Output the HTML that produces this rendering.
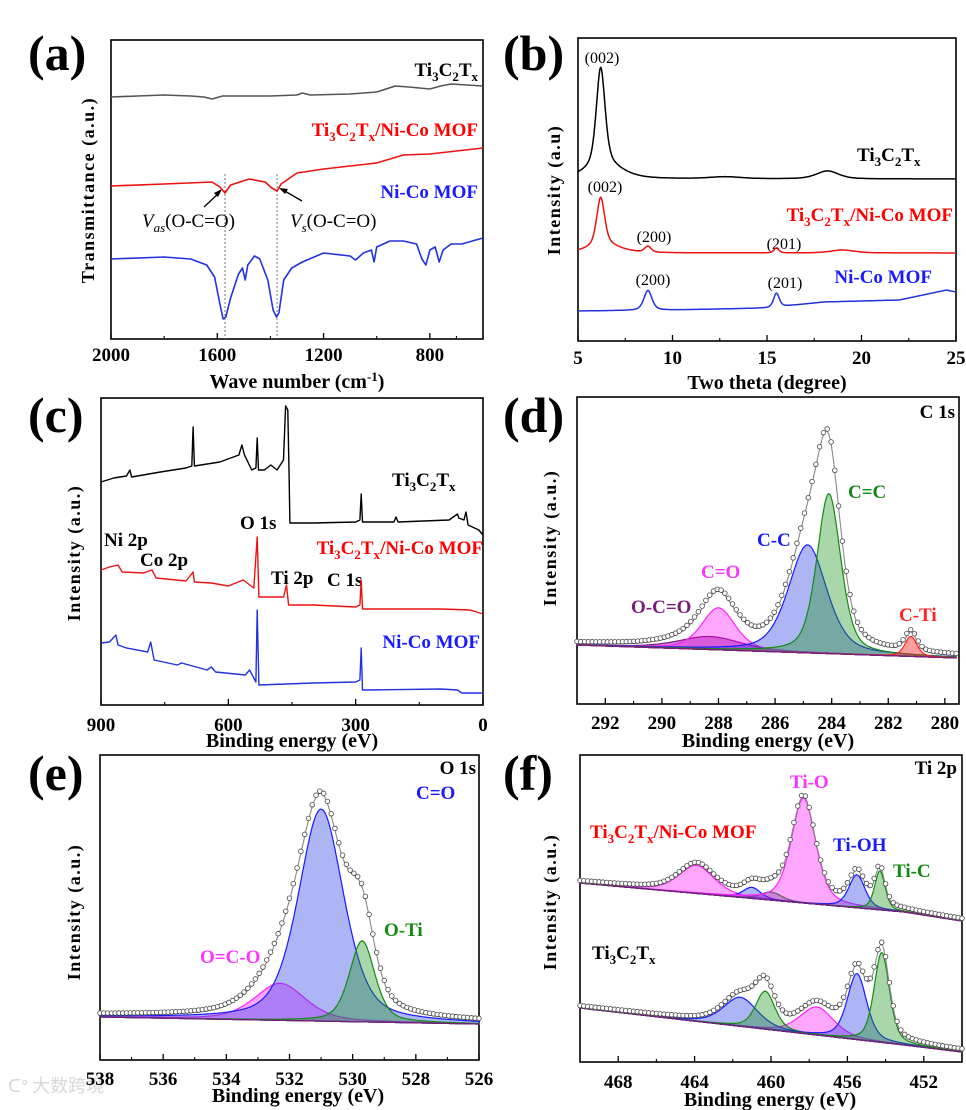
<!DOCTYPE html>
<html><head><meta charset="utf-8"><style>
html,body{margin:0;padding:0;background:#fff;}
svg{display:block;font-family:"Liberation Serif","Noto Serif CJK SC",serif;}
.tk{font-size:19px;font-weight:bold;text-anchor:middle;}
.ttl{font-size:20px;font-weight:bold;text-anchor:middle;}
.yt{font-size:18px;font-weight:bold;text-anchor:middle;letter-spacing:1.5px;}
.pl{font-size:50px;font-weight:bold;}
.lb{font-size:19px;font-weight:bold;}
.hk{font-size:16px;}
</style></head><body>
<svg id="chart" width="966" height="1110" viewBox="0 0 966 1110">
<rect width="966" height="1110" fill="#fff"/>
<text class="pl" x="28" y="70">(a)</text>
<text class="pl" x="503" y="70">(b)</text>
<text class="pl" x="28" y="432">(c)</text>
<text class="pl" x="503" y="432">(d)</text>
<text class="pl" x="28" y="790">(e)</text>
<text class="pl" x="503" y="790">(f)</text>

<text class="ttl" x="297" y="388">Wave number (cm<tspan dy="-7" font-size="13">-1</tspan><tspan dy="7">)</tspan></text>
<text class="ttl" x="767" y="389">Two theta (degree)</text>
<text class="ttl" x="292" y="747">Binding energy (eV)</text>
<text class="ttl" x="768" y="747">Binding energy (eV)</text>
<text class="ttl" x="298" y="1102">Binding energy (eV)</text>
<text class="ttl" x="770" y="1106">Binding energy (eV)</text>

<text class="yt" transform="translate(94,190) rotate(-90)">Transmittance (a.u.)</text>
<text class="yt" transform="translate(560,190) rotate(-90)">Intensity (a.u)</text>
<text class="yt" transform="translate(80,553) rotate(-90)">Intensity (a.u.)</text>
<text class="yt" transform="translate(556,538) rotate(-90)">Intensity (a.u.)</text>
<text class="yt" transform="translate(80,912) rotate(-90)">Intensity (a.u.)</text>
<text class="yt" transform="translate(556,902) rotate(-90)">Intensity (a.u.)</text>

<text class="lb" x="478" y="76" text-anchor="end" fill="#000">Ti<tspan dy="5" font-size="13">3</tspan><tspan dy="-5">C</tspan><tspan dy="5" font-size="13">2</tspan><tspan dy="-5">T</tspan><tspan dy="5" font-size="13">x</tspan></text>
<text class="lb" x="478" y="136" text-anchor="end" fill="#ff0000">Ti<tspan dy="5" font-size="13">3</tspan><tspan dy="-5">C</tspan><tspan dy="5" font-size="13">2</tspan><tspan dy="-5">T</tspan><tspan dy="5" font-size="13">x</tspan><tspan dy="-5">/Ni-Co MOF</tspan></text>
<text class="lb" x="478" y="198" text-anchor="end" fill="#1a1aff">Ni-Co MOF</text>
<text x="142" y="227" font-size="19"><tspan font-style="italic">V</tspan><tspan font-style="italic" font-size="13" dy="5">as</tspan><tspan dy="-5">(O-C=O)</tspan></text>
<text x="290" y="227" font-size="19"><tspan font-style="italic">V</tspan><tspan font-style="italic" font-size="13" dy="5">s</tspan><tspan dy="-5">(O-C=O)</tspan></text>
<line x1="204" y1="207" x2="220" y2="192" stroke="#000" stroke-width="1.3"/>
<polygon points="222,189 214,193 218,197" fill="#000"/>
<line x1="302" y1="201" x2="283" y2="190" stroke="#000" stroke-width="1.3"/>
<polygon points="279,188 288,189 285,194" fill="#000"/>

<g class="hk" text-anchor="middle">
<text x="602" y="63">(002)</text>
<text x="605" y="192">(002)</text>
<text x="654" y="242">(200)</text>
<text x="784" y="249">(201)</text>
<text x="653" y="285">(200)</text>
<text x="785" y="288">(201)</text>
</g>
<text class="lb" x="857" y="161">Ti<tspan dy="5" font-size="13">3</tspan><tspan dy="-5">C</tspan><tspan dy="5" font-size="13">2</tspan><tspan dy="-5">T</tspan><tspan dy="5" font-size="13">x</tspan></text>
<text class="lb" x="953" y="221" text-anchor="end" fill="#ff0000">Ti<tspan dy="5" font-size="13">3</tspan><tspan dy="-5">C</tspan><tspan dy="5" font-size="13">2</tspan><tspan dy="-5">T</tspan><tspan dy="5" font-size="13">x</tspan><tspan dy="-5">/Ni-Co MOF</tspan></text>
<text class="lb" x="932" y="283" text-anchor="end" fill="#1a1aff">Ni-Co MOF</text>

<text class="lb" x="392" y="486">Ti<tspan dy="5" font-size="13">3</tspan><tspan dy="-5">C</tspan><tspan dy="5" font-size="13">2</tspan><tspan dy="-5">T</tspan><tspan dy="5" font-size="13">x</tspan></text>
<text class="lb" x="240" y="529">O 1s</text>
<text class="lb" x="104" y="546">Ni 2p</text>
<text class="lb" x="140" y="566">Co 2p</text>
<text class="lb" x="483" y="554" text-anchor="end" fill="#ff0000">Ti<tspan dy="5" font-size="13">3</tspan><tspan dy="-5">C</tspan><tspan dy="5" font-size="13">2</tspan><tspan dy="-5">T</tspan><tspan dy="5" font-size="13">x</tspan><tspan dy="-5">/Ni-Co MOF</tspan></text>
<text class="lb" x="271" y="584">Ti 2p</text>
<text class="lb" x="327" y="586">C 1s</text>
<text class="lb" x="480" y="648" text-anchor="end" fill="#1a1aff">Ni-Co MOF</text>

<text class="lb" x="955" y="418" text-anchor="end">C 1s</text>
<text class="lb" x="848" y="498" fill="#138a13">C=C</text>
<text class="lb" x="757" y="546" fill="#1a1aff">C-C</text>
<text class="lb" x="701" y="578" fill="#ff33ff">C=O</text>
<text class="lb" x="631" y="613" fill="#7a1a7a">O-C=O</text>
<text class="lb" x="899" y="621" fill="#ff2222">C-Ti</text>

<text class="lb" x="476" y="774" text-anchor="end">O 1s</text>
<text class="lb" x="416" y="799" fill="#1a1aff">C=O</text>
<text class="lb" x="384" y="936" fill="#138a13">O-Ti</text>
<text class="lb" x="200" y="963" fill="#ff33ff">O=C-O</text>

<text class="lb" x="957" y="774" text-anchor="end">Ti 2p</text>
<text class="lb" x="790" y="788" fill="#ff33ff">Ti-O</text>
<text class="lb" x="590" y="838" fill="#ff0000">Ti<tspan dy="5" font-size="13">3</tspan><tspan dy="-5">C</tspan><tspan dy="5" font-size="13">2</tspan><tspan dy="-5">T</tspan><tspan dy="5" font-size="13">x</tspan><tspan dy="-5">/Ni-Co MOF</tspan></text>
<text class="lb" x="833" y="851" fill="#1a1aff">Ti-OH</text>
<text class="lb" x="893" y="877" fill="#138a13">Ti-C</text>
<text class="lb" x="592" y="959">Ti<tspan dy="5" font-size="13">3</tspan><tspan dy="-5">C</tspan><tspan dy="5" font-size="13">2</tspan><tspan dy="-5">T</tspan><tspan dy="5" font-size="13">x</tspan></text>

<text x="8" y="1092" font-size="18" fill="#d8d8d8" font-family="'Noto Sans CJK SC',sans-serif">ᑕᐤ 大数跨境</text>
<g id="marks"></g>
</svg>
<script>
// ---------- data (panel a: FTIR) ----------
const aWave = [2000,1900,1800,1700,1650,1620,1580,1500,1400,1300,1280,1250,1100,1000,930,880,800,760,720,600];
const aGray = [242,243,244,243,242,240,243,243,243,244,246,244,245,247,253,252,250,253,255,253];
const aRedX = [2000,1800,1620,1590,1571,1550,1480,1420,1395,1375,1360,1300,1200,1000,900,800,700,600];
const aRed = [153,155,157,152,146,154,160,157,151,148,155,166,170,176,184,185,188,191];
const aBlueX = [2000,1800,1700,1640,1610,1590,1578,1568,1550,1520,1505,1495,1485,1460,1440,1410,1390,1377,1368,1350,1320,1280,1200,1100,1080,1050,1020,1010,1000,950,900,850,830,815,800,780,765,750,720,680,600];
const aBlue = [80,82,80,74,62,35,20,22,41,65,71,59,74,83,80,59,29,22,26,59,71,77,86,83,79,86,89,77,92,98,98,95,80,74,89,92,77,89,95,95,101];
const aDashes = [1571,1375];

// ---------- panel b: XRD ----------
const bBlackBase = [162,162];
const bBlackPk = [[6.2,98,0.55],[6.4,14,2.2],[12.8,2,2],[18.2,8,1.4]];
const bRedBase = [88,88];
const bRedPk = [[6.2,48,0.5],[6.4,8,2],[8.7,6,0.4],[15.5,5,0.3],[19,3,1.5]];
const bBlueBaseX = [5,10,15,18,22,24.5,25];
const bBlueBase = [30,31,33,39,41,51,49];
const bBluePk = [[8.7,20,0.5],[15.5,14,0.35]];

// ---------- panel c: survey ----------
const cBlackX = [900,870,840,832,828,760,700,686,683,680,620,575,568,562,545,535,532,529,515,500,485,470,465,460,457,455,400,300,290,287,284,210,205,200,80,60,57,45,40,35,10,0];
const cBlack = [223,227,229,235,228,233,237,239,278,239,243,250,260,250,235,237,267,235,235,240,235,245,299,295,235,182,182,183,185,211,183,183,188,183,185,191,187,185,193,180,175,170];
const cRedX = [900,880,860,850,800,780,770,700,683,680,640,600,565,540,532,528,470,463,458,400,300,290,287,284,100,30,0];
const cRed = [135,138,140,133,132,135,127,124,133,123,122,119,125,117,168,108,108,120,100,100,98,100,125,96,96,95,91];
const cBlueX = [900,880,865,860,840,790,783,775,720,710,650,640,630,560,550,535,532,528,400,300,290,287,284,100,60,50,0];
const cBlue = [62,63,70,60,57,53,63,45,40,42,35,38,33,30,35,23,95,20,22,23,25,57,15,16,15,12,12];

// ---------- panel d: C 1s ----------
const dBgX = [293,279.5];
const dBg = [59,46];
const dNames = ['O-C=O','C=O','C-C','C=C','C-Ti'];
const dCenters = [288.3,288.0,284.85,284.1,281.2];
const dHeights = [13,42,108,160,20];
const dWidths = [2.6,1.4,1.6,1.0,0.5];

// ---------- panel e: O 1s ----------
const eBgX = [538,526];
const eBg = [43,36];
const eNames = ['O=C-O','C=O','O-Ti'];
const eCenters = [532.3,531.0,529.7];
const eHeights = [37,212,81];
const eWidths = [1.9,1.7,0.95];

// ---------- panel f: Ti 2p ----------
const fTopBgX = [470,453,450];
const fTopBg = [179,150,141];
const fTopNames = ['Ti2p1/2-O','Ti-C-2','Ti-OH-2','Ti-O','Ti-OH','Ti-C'];
const fTopCenters = [463.9,460.0,461.0,458.3,455.5,454.3];
const fTopHeights = [28,8,11,105,33,39];
const fTopWidths = [2.2,1.3,1.1,1.5,1.0,0.65];
const fBotBgX = [470,453,450];
const fBotBg = [54,17,10];
const fBotNames = ['Ti-O','Ti-OH-2','Ti-C-2','Ti-OH','Ti-C'];
const fBotCenters = [457.6,461.6,460.3,455.5,454.2];
const fBotHeights = [28,29,38,66,90];
const fBotWidths = [2.1,2.1,1.2,1.2,0.95];

// ---------- rendering ----------
const NS = 'http://www.w3.org/2000/svg';
const root = document.getElementById('marks');
function mk(tag, attrs){ const e=document.createElementNS(NS,tag); for(const k in attrs) e.setAttribute(k,attrs[k]); root.appendChild(e); return e; }
function lin(d0,d1,r0,r1){ return v => r0+(v-d0)/(d1-d0)*(r1-r0); }
function interp(xs,ys,x){
  for(let i=0;i<xs.length-1;i++){
    const a=xs[i], b=xs[i+1];
    if((x-a)*(x-b)<=0){ return ys[i]+(x-a)/(b-a)*(ys[i+1]-ys[i]); }
  }
  return Math.abs(x-xs[0])<Math.abs(x-xs[xs.length-1]) ? ys[0] : ys[ys.length-1];
}
function pv(x,c,h,w,eta){ const t=(x-c)/w; return h*(eta/(1+4*t*t)+(1-eta)*Math.exp(-4*Math.LN2*t*t)); }

const panels = {
  a:{x0:111,x1:483,y0:40,y1:339,d0:2000,d1:600,maj:[2000,1600,1200,800],min:[1800,1400,1000,700,600],lab:['2000','1600','1200','800'],ly:361},
  b:{x0:578,x1:956,y0:38,y1:341,d0:5,d1:25,maj:[5,10,15,20,25],min:[7.5,12.5,17.5,22.5],lab:['5','10','15','20','25'],ly:364},
  c:{x0:101,x1:483,y0:398,y1:705,d0:900,d1:0,maj:[900,600,300,0],min:[750,450,150],lab:['900','600','300','0'],ly:731},
  d:{x0:577,x1:959,y0:397,y1:704,d0:293,d1:279.5,maj:[292,290,288,286,284,282,280],min:[291,289,287,285,283,281],lab:['292','290','288','286','284','282','280'],ly:729},
  e:{x0:100,x1:479,y0:755,y1:1060,d0:538,d1:526,maj:[538,536,534,532,530,528,526],min:[537,535,533,531,529,527],lab:['538','536','534','532','530','528','526'],ly:1085},
  f:{x0:580,x1:962,y0:755,y1:1062,d0:470,d1:450,maj:[468,464,460,456,452],min:[466,462,458,454],lab:['468','464','460','456','452'],ly:1088}
};
for(const k in panels){
  const p=panels[k];
  p.sx = lin(p.d0,p.d1,p.x0,p.x1);
  p.sy = v => p.y1 - v;
  const fr = mk('rect',{x:p.x0,y:p.y0,width:p.x1-p.x0,height:p.y1-p.y0,fill:'none',stroke:'#000','stroke-width':1.6});
  
  
  p.maj.forEach((v,i)=>{
    const X=p.sx(v);
    const t=mk('line',{x1:X,x2:X,y1:p.y1,y2:p.y1-6,stroke:'#000','stroke-width':1.3});
    
    
    const tl=mk('text',{x:X,y:p.ly,class:'tk'});
    tl.textContent=p.lab[i];
    
    
  });
  p.min.forEach(v=>{
    const X=p.sx(v);
    const t=mk('line',{x1:X,x2:X,y1:p.y1,y2:p.y1-3,stroke:'#000','stroke-width':1.1});
    
    
  });
}
function pathFrom(p,xs,ys){ return xs.map((x,i)=>(i?'L':'M')+p.sx(x).toFixed(1)+','+p.sy(ys[i]).toFixed(1)).join(''); }
function drawLine(p,xs,ys,color,name,w){
  const e=mk('path',{d:pathFrom(p,xs,ys),fill:'none',stroke:color,'stroke-width':w||1.6,'stroke-linejoin':'round'});
  
  
}
const A=panels.a;
aDashes.forEach(w=>{
  const e=mk('line',{x1:A.sx(w),x2:A.sx(w),y1:174,y2:A.y1,stroke:'#666','stroke-width':0.9,'stroke-dasharray':'2,2'});
  
  
});
drawLine(A,aWave,aGray,'#555','ftir-ti3c2tx-line');
drawLine(A,aRedX,aRed,'#ee1111','ftir-composite-line');
drawLine(A,aBlueX,aBlue,'#2233dd','ftir-mof-line');
const B=panels.b;
function xrd(baseX,base,pk){ const xs=[],ys=[]; for(let i=0;i<=500;i++){ const x=5+20*i/500; xs.push(x); let v=interp(baseX,base,x); pk.forEach(q=>v+=pv(x,q[0],q[1],q[2],0.5)); ys.push(v);} return [xs,ys]; }
let r=xrd([5,25],bBlackBase,bBlackPk); drawLine(B,r[0],r[1],'#000','xrd-ti3c2tx-line',1.5);
r=xrd([5,25],bRedBase,bRedPk); drawLine(B,r[0],r[1],'#ee1111','xrd-composite-line',1.5);
r=xrd(bBlueBaseX,bBlueBase,bBluePk); drawLine(B,r[0],r[1],'#2233dd','xrd-mof-line',1.5);
const C=panels.c;
drawLine(C,cBlackX,cBlack,'#000','survey-ti3c2tx-line',1.4);
drawLine(C,cRedX,cRed,'#ee1111','survey-composite-line',1.4);
drawLine(C,cBlueX,cBlue,'#2233dd','survey-mof-line',1.4);
function fitPanel(p,bgX,bg,centers,heights,widths,names,fills,strokes,lo,hi,tag){
  const N=300, xs=[];
  for(let i=0;i<=N;i++) xs.push(lo+(hi-lo)*i/N);
  const bgv=xs.map(x=>interp(bgX,bg,x));
  const env=bgv.slice();
  centers.forEach((c,i)=>{
    const comp=xs.map(x=>pv(x,c,heights[i],widths[i],0.45));
    comp.forEach((v,j)=>env[j]+=v);
    let d=xs.map((x,j)=>(j?'L':'M')+p.sx(x).toFixed(1)+','+p.sy(bgv[j]+comp[j]).toFixed(1)).join('');
    for(let j=xs.length-1;j>=0;j--) d+='L'+p.sx(xs[j]).toFixed(1)+','+p.sy(bgv[j]).toFixed(1);
    const e=mk('path',{d:d+'Z',fill:fills[i],stroke:strokes[i],'stroke-width':1.2});
    
    
  });
  const bl=mk('path',{d:pathFrom(p,xs,bgv),fill:'none',stroke:'#7a1a7a','stroke-width':1.3});
  
  
  const ev=mk('path',{d:pathFrom(p,xs,env),fill:'none',stroke:'#888','stroke-width':1.1});
  
  
  for(let j=0;j<xs.length;j+=3){
    const c=mk('circle',{cx:p.sx(xs[j]),cy:p.sy(env[j]+2),r:2.3,fill:'#fff',stroke:'#444','stroke-width':0.8});
    
    
  }
}
const mag='rgba(255,0,255,0.35)', blu='rgba(40,60,230,0.38)', grn='rgba(30,150,30,0.38)';
fitPanel(panels.d,dBgX,dBg,dCenters,dHeights,dWidths,dNames,
  ['rgba(128,0,128,0.45)',mag,blu,grn,'rgba(255,40,40,0.45)'],['#7a1a7a','#ff22ff','#1a1aff','#138a13','#ff2222'],293,279.6,'c1s');
fitPanel(panels.e,eBgX,eBg,eCenters,eHeights,eWidths,eNames,[mag,blu,grn],['#ff22ff','#1a1aff','#138a13'],538,526,'o1s');
fitPanel(panels.f,fTopBgX,fTopBg,fTopCenters,fTopHeights,fTopWidths,fTopNames,
  [mag,'rgba(40,100,40,0.35)',blu,mag,blu,grn],['#ff22ff','#138a13','#1a1aff','#ff22ff','#1a1aff','#138a13'],470,450,'ti2p-composite');
fitPanel(panels.f,fBotBgX,fBotBg,fBotCenters,fBotHeights,fBotWidths,fBotNames,
  [mag,blu,grn,blu,grn],['#ff22ff','#1a1aff','#138a13','#1a1aff','#138a13'],470,450,'ti2p-ti3c2tx');
</script>
</body></html>
